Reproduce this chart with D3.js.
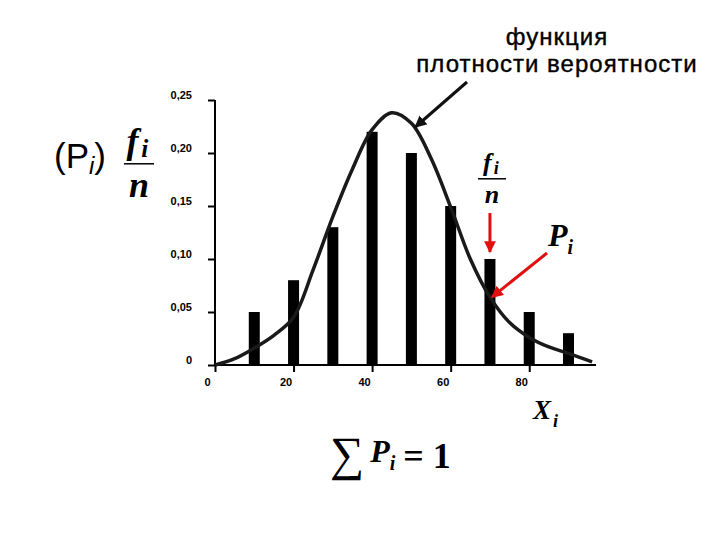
<!DOCTYPE html>
<html>
<head>
<meta charset="utf-8">
<script src="https://cdn.jsdelivr.net/npm/d3@7"></script>
<style>
  body { margin: 0; background: #fff; }
  svg { display: block; }
  .tick text { font-family: "Liberation Sans", Arial, sans-serif; font-weight: bold; font-size: 11px; }
  .math { font-family: "Liberation Serif", "Times New Roman", serif; font-weight: bold; font-style: italic; }
</style>
</head>
<body>
<div id="chart"></div>
<script>
// bar heights f_i / n at each x_i
var xValues = [10, 20, 30, 40, 50, 60, 70, 80, 90];
var relFreq = [0.05, 0.08, 0.13, 0.22, 0.20, 0.15, 0.10, 0.05, 0.03];

// density curve
var curveX = [0, 5, 10, 15, 20, 25, 30, 35, 40, 45, 50, 55, 60, 65, 70, 75, 80, 85, 90, 96];
var curveY = [0.0, 0.006, 0.016, 0.028, 0.045, 0.09, 0.14, 0.185, 0.222, 0.238, 0.228, 0.195, 0.149, 0.10, 0.064, 0.04, 0.026, 0.017, 0.011, 0.003];

var xTicks = [0, 20, 40, 60, 80];
var yTicks = [0, 0.05, 0.10, 0.15, 0.20, 0.25];

var width = 720, height = 540;

var svg = d3.select("#chart").append("svg")
    .attr("width", width)
    .attr("height", height);

var defs = svg.append("defs");
function marker(id, color) {
    defs.append("marker")
        .attr("id", id)
        .attr("viewBox", "0 0 10 10")
        .attr("refX", 9).attr("refY", 5)
        .attr("markerWidth", 4).attr("markerHeight", 4)
        .attr("orient", "auto")
      .append("path")
        .attr("d", "M0,0 L10,5 L0,10 Z")
        .attr("fill", color);
}
marker("arrBlack", "#111");
marker("arrRed", "#e01010");

var x = d3.scaleLinear().domain([0, 97]).range([215, 596]);
var y = d3.scaleLinear().domain([0, 0.25]).range([365, 100]);

var fmt = function(d) { return d === 0 ? "0" : d3.format(".2f")(d).replace(".", ","); };

// y axis
var yAxis = svg.append("g")
    .attr("transform", "translate(" + x(0) + ",0)")
    .call(d3.axisLeft(y).tickValues(yTicks).tickSize(7).tickFormat(fmt));
yAxis.select(".domain").attr("d", "M0," + y(0.25) + "V" + y(0)).attr("stroke", "#000").attr("stroke-width", 2);
yAxis.selectAll(".tick line").attr("stroke-width", 2);
yAxis.selectAll(".tick text").attr("x", -23).attr("dy", "-0.1em");

// x axis
var xAxis = svg.append("g")
    .attr("transform", "translate(0," + y(0) + ")")
    .call(d3.axisBottom(x).tickValues(xTicks).tickSize(7).tickFormat(d3.format("d")));
xAxis.select(".domain").attr("d", "M" + x(0) + ",0H" + x(97)).attr("stroke", "#000").attr("stroke-width", 2);
xAxis.selectAll(".tick line").attr("stroke-width", 2);
xAxis.selectAll(".tick text").attr("dx", "-8px").attr("y", 13);

// bars
svg.selectAll(".bar")
    .data(xValues)
    .enter().append("rect")
    .attr("class", "bar")
    .attr("x", function(d) { return x(d) - 5.5; })
    .attr("width", 11)
    .attr("y", function(d, i) { return y(relFreq[i]); })
    .attr("height", function(d, i) { return y(0) - y(relFreq[i]); })
    .attr("fill", "#000");

// density curve
var pts = curveX.map(function(d, i) { return [d, curveY[i]]; });
var line = d3.line()
    .x(function(d) { return x(d[0]); })
    .y(function(d) { return y(d[1]); })
    .curve(d3.curveCatmullRom);
svg.append("path")
    .datum(pts)
    .attr("d", line)
    .attr("fill", "none")
    .attr("stroke", "#1a1a1a")
    .attr("stroke-width", 3.5);

// title
var title = svg.append("text")
    .attr("text-anchor", "middle")
    .attr("font-family", "Liberation Sans, Arial, sans-serif")
    .attr("font-size", 24)
    .attr("letter-spacing", 1)
    .attr("fill", "#000")
    .attr("stroke", "#000")
    .attr("stroke-width", 0.4);
title.append("tspan").attr("x", 557).attr("y", 45).text("функция");
title.append("tspan").attr("x", 557).attr("y", 72).text("плотности вероятности");

// arrows
svg.append("line")
    .attr("x1", 467).attr("y1", 82).attr("x2", x(51)).attr("y2", 127)
    .attr("stroke", "#111").attr("stroke-width", 3)
    .attr("marker-end", "url(#arrBlack)");
svg.append("line")
    .attr("x1", x(70)).attr("y1", 213).attr("x2", x(70)).attr("y2", 252)
    .attr("stroke", "#e01010").attr("stroke-width", 3)
    .attr("marker-end", "url(#arrRed)");
svg.append("line")
    .attr("x1", 547).attr("y1", 253).attr("x2", x(70) + 2).attr("y2", y(0.064))
    .attr("stroke", "#e01010").attr("stroke-width", 3)
    .attr("marker-end", "url(#arrRed)");

// left label (P_i) f_i / n
var lab = svg.append("text")
    .attr("font-family", "Liberation Sans, Arial, sans-serif")
    .attr("font-size", 35)
    .attr("x", 54).attr("y", 168);
lab.append("tspan").text("(P");
lab.append("tspan").attr("font-size", 24).attr("font-style", "italic").attr("dy", 6).text("i");
lab.append("tspan").attr("dy", -6).text(")");

function frac(cx, top, size, lineW) {
    var g = svg.append("g").attr("class", "math");
    var t = g.append("text").attr("x", cx - size * 0.35).attr("y", top).attr("font-size", size);
    t.append("tspan").text("f");
    t.append("tspan").attr("font-size", size * 0.7).attr("dy", size * 0.12).attr("dx", size * 0.08).text("i");
    g.append("line")
        .attr("x1", cx - lineW / 2).attr("x2", cx + lineW / 2)
        .attr("y1", top + size * 0.3).attr("y2", top + size * 0.3)
        .attr("stroke", "#000").attr("stroke-width", 1.5);
    g.append("text").attr("x", cx).attr("y", top + size * 1.22)
        .attr("text-anchor", "middle").attr("font-size", size).text("n");
}
frac(139, 153, 36, 30);
frac(492, 171, 26, 28);

// P_i label
var p = svg.append("text").attr("class", "math").attr("x", 548).attr("y", 246).attr("font-size", 32);
p.append("tspan").text("P");
p.append("tspan").attr("font-size", 20).attr("dy", 8).text("i");

// X_i label
var xl = svg.append("text").attr("class", "math").attr("x", 533).attr("y", 419).attr("font-size", 27);
xl.append("tspan").text("X");
xl.append("tspan").attr("font-size", 18).attr("dy", 8).attr("dx", 2).text("i");

// sum P_i = 1
var sum = svg.append("text")
    .attr("font-family", "Liberation Serif, Times New Roman, serif")
    .attr("x", 330).attr("y", 470);
sum.append("tspan").attr("font-size", 48).text("∑");
sum.append("tspan").attr("font-size", 32).attr("font-weight", "bold").attr("font-style", "italic").attr("dx", 6).attr("dy", -8).text("P");
sum.append("tspan").attr("font-size", 20).attr("font-weight", "bold").attr("font-style", "italic").attr("dy", 8).text("i");
sum.append("tspan").attr("font-size", 36).attr("font-weight", "bold").attr("dx", 8).attr("dy", -2).text("= 1");
</script>
</body>
</html>
